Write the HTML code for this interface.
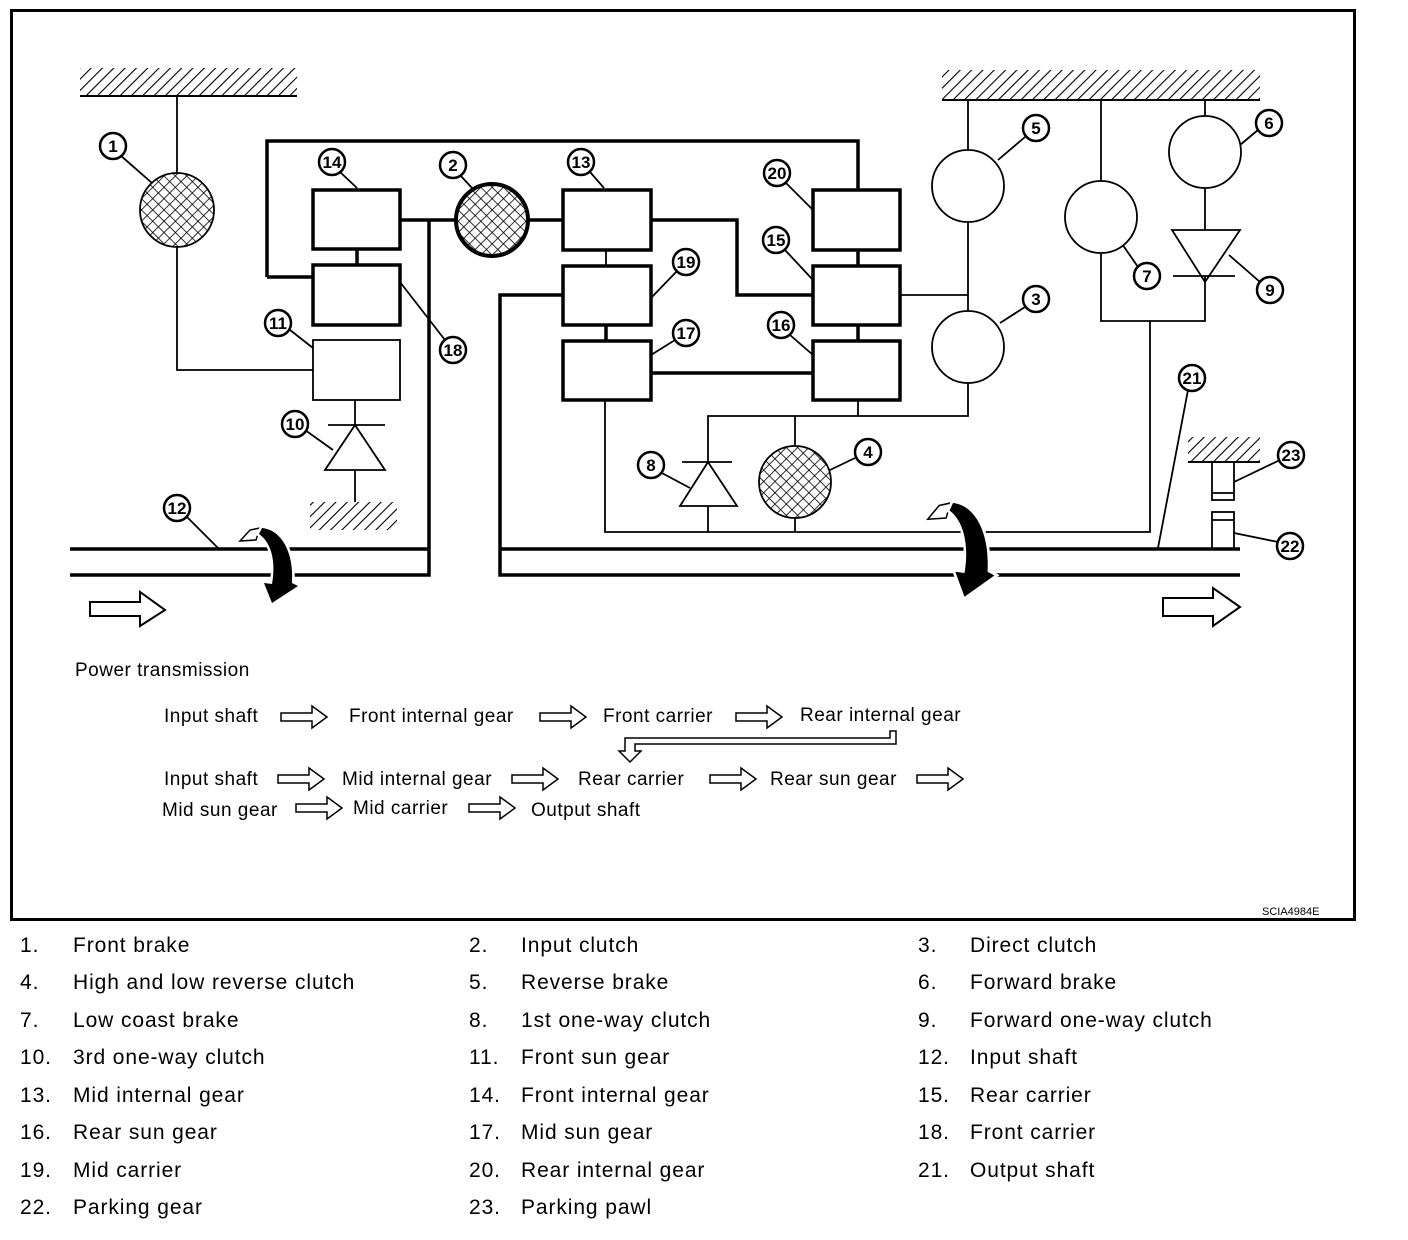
<!DOCTYPE html>
<html><head><meta charset="utf-8"><style>
html,body{margin:0;padding:0;background:#fff;}
svg{display:block;}
text{font-family:"Liberation Sans",sans-serif;}
.lab circle{fill:#fff;stroke:#000;stroke-width:2.5;}
.lab text{font-size:17px;font-weight:bold;text-anchor:middle;}
.t{font-size:19px;letter-spacing:0.5px;}
.lg{font-size:21px;letter-spacing:0.9px;}
</style></head><body>
<svg width="1408" height="1240" viewBox="0 0 1408 1240" xmlns="http://www.w3.org/2000/svg">
<defs>
<pattern id="h" width="8" height="8" patternUnits="userSpaceOnUse" patternTransform="rotate(45)">
<line x1="0" y1="0" x2="0" y2="8" stroke="#000" stroke-width="2.2"/></pattern>
<pattern id="x" width="8" height="8" patternUnits="userSpaceOnUse" patternTransform="rotate(45)">
<line x1="0" y1="0" x2="0" y2="8" stroke="#000" stroke-width="1.6"/><line x1="0" y1="0" x2="8" y2="0" stroke="#000" stroke-width="1.6"/></pattern>
</defs>
<rect x="11.5" y="10.5" width="1343" height="909" fill="none" stroke="#000" stroke-width="3"/>

<g fill="none" stroke="#000">
<rect x="80" y="68" width="217" height="27" fill="url(#h)" stroke="none"/>
<line x1="80" y1="96" x2="297" y2="96" stroke-width="2"/>
<rect x="942" y="70" width="318" height="29" fill="url(#h)" stroke="none"/>
<line x1="942" y1="100" x2="1260" y2="100" stroke-width="2"/>
<rect x="310" y="502" width="87" height="28" fill="url(#h)" stroke="none"/>
<rect x="1188" y="437" width="72" height="24" fill="url(#h)" stroke="none"/>
<line x1="1188" y1="462" x2="1260" y2="462" stroke-width="2"/>

<g stroke-width="1.8">
<polyline points="177,96 177,174"/>
<polyline points="177,247 177,370 313,370"/>
<polyline points="355,400 355,425"/>
<line x1="328" y1="425" x2="385" y2="425"/>
<polygon points="355,425 325,470 385,470"/>
<line x1="355" y1="470" x2="355" y2="502"/>
<line x1="606" y1="250" x2="606" y2="266"/>
<polyline points="605,400 605,532 1150,532 1150,321"/>
<polyline points="968,100 968,150"/>
<polyline points="968,222 968,311"/>
<polyline points="968,383 968,416 708,416 708,462"/>
<line x1="858" y1="400" x2="858" y2="416"/>
<line x1="900" y1="295" x2="968" y2="295"/>
<line x1="682" y1="462" x2="732" y2="462"/>
<polygon points="708,462 680,506 737,506"/>
<line x1="708" y1="506" x2="708" y2="532"/>
<line x1="795" y1="416" x2="795" y2="446"/>
<line x1="795" y1="518" x2="795" y2="532"/>
<polyline points="1101,100 1101,181"/>
<polyline points="1101,253 1101,321 1205,321 1205,276"/>
<line x1="1205" y1="100" x2="1205" y2="116"/>
<line x1="1205" y1="188" x2="1205" y2="230"/>
<polygon points="1172,230 1240,230 1205,282"/>
<line x1="1173" y1="276" x2="1235" y2="276"/>
<rect x="1212" y="462" width="22" height="38"/>
<line x1="1212" y1="493" x2="1234" y2="493"/>
<rect x="1212" y="512" width="22" height="37"/>
<line x1="1212" y1="520" x2="1234" y2="520"/>
<rect x="313" y="340" width="87" height="60"/>
<line x1="120" y1="155" x2="152" y2="183"/>
<line x1="340" y1="172" x2="357" y2="188"/>
<line x1="460" y1="175" x2="472" y2="188"/>
<line x1="400" y1="282" x2="445" y2="340"/>
<line x1="290" y1="330" x2="313" y2="348"/>
<line x1="305" y1="430" x2="333" y2="450"/>
<line x1="185" y1="515" x2="218" y2="548"/>
<line x1="590" y1="172" x2="604" y2="188"/>
<line x1="785" y1="182" x2="813" y2="210"/>
<line x1="785" y1="250" x2="813" y2="280"/>
<line x1="790" y1="335" x2="813" y2="355"/>
<line x1="678" y1="270" x2="651" y2="298"/>
<line x1="675" y1="340" x2="651" y2="355"/>
<line x1="660" y1="472" x2="690" y2="488"/>
<line x1="855" y1="458" x2="830" y2="470"/>
<line x1="1025" y1="137" x2="998" y2="160"/>
<line x1="1025" y1="307" x2="1000" y2="323"/>
<line x1="1258" y1="130" x2="1240" y2="145"/>
<line x1="1138" y1="267" x2="1120" y2="241"/>
<line x1="1260" y1="282" x2="1229" y2="255"/>
<line x1="1188" y1="390" x2="1158" y2="548"/>
<line x1="1280" y1="460" x2="1234" y2="482"/>
<line x1="1278" y1="542" x2="1234" y2="533"/>
</g>

<g stroke-width="3.5">
<polyline points="267,277 267,141 858,141 858,190"/>
<line x1="267" y1="277" x2="313" y2="277"/>
<line x1="357" y1="249" x2="357" y2="265"/>
<rect x="313" y="190" width="87" height="59"/>
<rect x="313" y="265" width="87" height="60"/>
<polyline points="70,549 429,549"/>
<polyline points="70,575 429,575 429,220"/>
<line x1="400" y1="220" x2="456" y2="220"/>
<line x1="529" y1="220" x2="563" y2="220"/>
<rect x="563" y="190" width="88" height="60"/>
<rect x="563" y="266" width="88" height="59"/>
<rect x="563" y="341" width="88" height="59"/>
<line x1="606" y1="325" x2="606" y2="341"/>
<polyline points="651,220 737,220 737,295 813,295"/>
<polyline points="563,295 500,295 500,575 1240,575"/>
<line x1="500" y1="549" x2="1240" y2="549"/>
<line x1="651" y1="373" x2="813" y2="373"/>
<rect x="813" y="190" width="87" height="60"/>
<rect x="813" y="266" width="87" height="59"/>
<rect x="813" y="341" width="87" height="59"/>
<line x1="858" y1="250" x2="858" y2="266"/>
<line x1="858" y1="325" x2="858" y2="341"/>
</g>

<g stroke-width="1.8">
<circle cx="177" cy="210" r="37" fill="url(#x)"/>
<circle cx="492" cy="220" r="36" fill="url(#x)" stroke-width="4"/>
<circle cx="795" cy="482" r="36" fill="url(#x)"/>
<circle cx="968" cy="186" r="36" fill="#fff"/>
<circle cx="968" cy="347" r="36" fill="#fff"/>
<circle cx="1101" cy="217" r="36" fill="#fff"/>
<circle cx="1205" cy="152" r="36" fill="#fff"/>
</g>

<g stroke-width="2" fill="#fff">
<polygon points="90,602 140,602 140,592 165,610 140,626 140,616 90,616"/>
<polygon points="1163,598 1213,598 1213,588 1240,607 1213,626 1213,616 1163,616"/>
<polygon points="281,713 312,713 312,706 327,717 312,728 312,721 281,721" stroke-width="1.5"/>
<polygon points="540,713 571,713 571,706 586,717 571,728 571,721 540,721" stroke-width="1.5"/>
<polygon points="736,713 767,713 767,706 782,717 767,728 767,721 736,721" stroke-width="1.5"/>
<polygon points="278,775 309,775 309,768 324,779 309,790 309,783 278,783" stroke-width="1.5"/>
<polygon points="512,775 543,775 543,768 558,779 543,790 543,783 512,783" stroke-width="1.5"/>
<polygon points="710,775 741,775 741,768 756,779 741,790 741,783 710,783" stroke-width="1.5"/>
<polygon points="917,775 948,775 948,768 963,779 948,790 948,783 917,783" stroke-width="1.5"/>
<polygon points="296,804 327,804 327,797 342,808 327,819 327,812 296,812" stroke-width="1.5"/>
<polygon points="469,804 500,804 500,797 515,808 500,819 500,812 469,812" stroke-width="1.5"/>
<polygon points="896,731 896,744 635,744 635,751 641,751 630,762 619,751 625,751 625,738 890,738 890,731" stroke-width="1.5"/>
</g>
</g>

<g transform="translate(262,528)">
<polygon points="-22,13 -12,2 -2,0 -6,12" fill="#fff" stroke="#000" stroke-width="1.5"/>
<path d="M0,0 C20,2 32,25 30,55 L36,58 L10,75 L2,55 L10,56 C14,35 10,15 -3,6 Z" fill="#000" stroke="#fff" stroke-width="5" paint-order="stroke"/>
</g>
<g transform="translate(953,503) scale(1.15,1.25)">
<polygon points="-22,13 -12,2 -2,0 -6,12" fill="#fff" stroke="#000" stroke-width="1.3"/>
<path d="M0,0 C20,2 32,25 30,55 L36,58 L10,75 L2,55 L10,56 C14,35 10,15 -3,6 Z" fill="#000" stroke="#fff" stroke-width="4.5" paint-order="stroke"/>
</g>

<g class="lab">
<g><circle cx="113" cy="146" r="13"/><text x="113" y="152">1</text></g>
<g><circle cx="332" cy="162" r="13"/><text x="332" y="168">14</text></g>
<g><circle cx="453" cy="165" r="13"/><text x="453" y="171">2</text></g>
<g><circle cx="453" cy="350" r="13"/><text x="453" y="356">18</text></g>
<g><circle cx="278" cy="323" r="13"/><text x="278" y="329">11</text></g>
<g><circle cx="295" cy="424" r="13"/><text x="295" y="430">10</text></g>
<g><circle cx="177" cy="508" r="13"/><text x="177" y="514">12</text></g>
<g><circle cx="581" cy="162" r="13"/><text x="581" y="168">13</text></g>
<g><circle cx="777" cy="173" r="13"/><text x="777" y="179">20</text></g>
<g><circle cx="776" cy="240" r="13"/><text x="776" y="246">15</text></g>
<g><circle cx="686" cy="262" r="13"/><text x="686" y="268">19</text></g>
<g><circle cx="686" cy="333" r="13"/><text x="686" y="339">17</text></g>
<g><circle cx="781" cy="325" r="13"/><text x="781" y="331">16</text></g>
<g><circle cx="651" cy="465" r="13"/><text x="651" y="471">8</text></g>
<g><circle cx="868" cy="452" r="13"/><text x="868" y="458">4</text></g>
<g><circle cx="1036" cy="128" r="13"/><text x="1036" y="134">5</text></g>
<g><circle cx="1036" cy="299" r="13"/><text x="1036" y="305">3</text></g>
<g><circle cx="1269" cy="123" r="13"/><text x="1269" y="129">6</text></g>
<g><circle cx="1147" cy="276" r="13"/><text x="1147" y="282">7</text></g>
<g><circle cx="1270" cy="290" r="13"/><text x="1270" y="296">9</text></g>
<g><circle cx="1192" cy="378" r="13"/><text x="1192" y="384">21</text></g>
<g><circle cx="1291" cy="455" r="13"/><text x="1291" y="461">23</text></g>
<g><circle cx="1290" cy="546" r="13"/><text x="1290" y="552">22</text></g>
</g>

<g class="t">
<text x="75" y="676">Power transmission</text>
<text x="164" y="722">Input shaft</text>
<text x="349" y="722">Front internal gear</text>
<text x="603" y="722">Front carrier</text>
<text x="800" y="721">Rear internal gear</text>
<text x="164" y="785">Input shaft</text>
<text x="342" y="785">Mid internal gear</text>
<text x="578" y="785">Rear carrier</text>
<text x="770" y="785">Rear sun gear</text>
<text x="162" y="816">Mid sun gear</text>
<text x="353" y="814">Mid carrier</text>
<text x="531" y="816">Output shaft</text>
</g>
<text x="1262" y="915" style="font-size:11px">SCIA4984E</text>

<g class="lg">
<text x="20" y="952">1.</text><text x="73" y="952">Front brake</text>
<text x="469" y="952">2.</text><text x="521" y="952">Input clutch</text>
<text x="918" y="952">3.</text><text x="970" y="952">Direct clutch</text>
<text x="20" y="989">4.</text><text x="73" y="989">High and low reverse clutch</text>
<text x="469" y="989">5.</text><text x="521" y="989">Reverse brake</text>
<text x="918" y="989">6.</text><text x="970" y="989">Forward brake</text>
<text x="20" y="1027">7.</text><text x="73" y="1027">Low coast brake</text>
<text x="469" y="1027">8.</text><text x="521" y="1027">1st one-way clutch</text>
<text x="918" y="1027">9.</text><text x="970" y="1027">Forward one-way clutch</text>
<text x="20" y="1064">10.</text><text x="73" y="1064">3rd one-way clutch</text>
<text x="469" y="1064">11.</text><text x="521" y="1064">Front sun gear</text>
<text x="918" y="1064">12.</text><text x="970" y="1064">Input shaft</text>
<text x="20" y="1102">13.</text><text x="73" y="1102">Mid internal gear</text>
<text x="469" y="1102">14.</text><text x="521" y="1102">Front internal gear</text>
<text x="918" y="1102">15.</text><text x="970" y="1102">Rear carrier</text>
<text x="20" y="1139">16.</text><text x="73" y="1139">Rear sun gear</text>
<text x="469" y="1139">17.</text><text x="521" y="1139">Mid sun gear</text>
<text x="918" y="1139">18.</text><text x="970" y="1139">Front carrier</text>
<text x="20" y="1177">19.</text><text x="73" y="1177">Mid carrier</text>
<text x="469" y="1177">20.</text><text x="521" y="1177">Rear internal gear</text>
<text x="918" y="1177">21.</text><text x="970" y="1177">Output shaft</text>
<text x="20" y="1214">22.</text><text x="73" y="1214">Parking gear</text>
<text x="469" y="1214">23.</text><text x="521" y="1214">Parking pawl</text>
</g>
</svg>
</body></html>
